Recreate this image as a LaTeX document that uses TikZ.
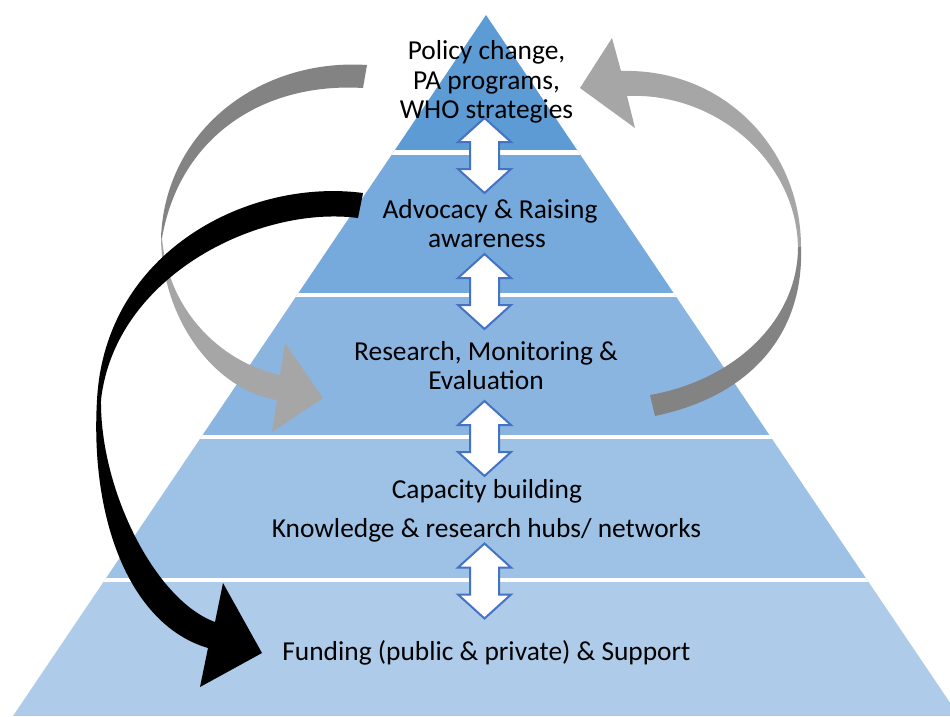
\documentclass[tikz,border=0pt]{standalone}
\usepackage{fontspec}
\setmainfont{Carlito}
\definecolor{layA}{HTML}{5D9BD5}
\definecolor{layB}{HTML}{76A9DC}
\definecolor{layC}{HTML}{8AB5E1}
\definecolor{layD}{HTML}{9DC2E6}
\definecolor{layE}{HTML}{AECCE9}
\definecolor{arrBlue}{HTML}{4472C4}
\definecolor{grayDark}{HTML}{838383}
\definecolor{grayLight}{HTML}{A6A6A6}
\begin{document}
\begin{tikzpicture}[x=1pt,y=-1pt,
  dblarr/.style={fill=white,draw=arrBlue,line width=2pt,line join=miter},
  sep/.style={white,line width=4.5pt},
  lbl/.style={anchor=base,inner sep=0pt,font=\fontsize{27.4}{29}\selectfont}]
\useasboundingbox (0,0) rectangle (950,716);
\clip (0,0) rectangle (950,716);
\fill[white] (0,0) rectangle (950,716);
% pyramid
\begin{scope}
  \clip (486,15) -- (13,716) -- (959,716) -- cycle;
  \fill[layA] (0,0) rectangle (950,153);
  \fill[layB] (0,153) rectangle (950,295);
  \fill[layC] (0,295) rectangle (950,437);
  \fill[layD] (0,437) rectangle (950,580);
  \fill[layE] (0,580) rectangle (950,716);
  \draw[sep] (0,152.5) -- (950,152.5);
  \draw[sep] (0,295) -- (950,295);
  \draw[sep] (0,437) -- (950,437);
  \draw[sep] (0,580) -- (950,580);
\end{scope}
% double arrows
\foreach \yc in {155.5,291.5,438.5,581}{
  \draw[dblarr] (484.5,\yc-37.5) -- (511,\yc-13.5) -- (499,\yc-13.5) -- (499,\yc+13.5) -- (511,\yc+13.5)
    -- (484.5,\yc+37.5) -- (458,\yc+13.5) -- (470,\yc+13.5) -- (470,\yc-13.5) -- (458,\yc-13.5) -- cycle;
}
% left gray circular arrow
\fill[grayDark] (367,65) .. controls (260,58) and (165,130) .. (161,238)
  -- (162,238) .. controls (180,135) and (265,82) .. (363,88) -- cycle;
\fill[grayLight] (161,238) .. controls (162,320) and (215,390) .. (277,400)
  -- (272,432) -- (323,398) -- (285,343) -- (280,375)
  .. controls (220,362) and (168,310) .. (162,238) -- cycle;
% right gray circular arrow
\fill[grayLight] (621,71) .. controls (725,68) and (801,150) .. (801,247)
  -- (798,247) .. controls (796,160) and (715,92) .. (627,96)
  -- (635,128) -- (580,88) -- (612,38) -- cycle;
\fill[grayDark] (801,247) .. controls (804,330) and (755,395) .. (655,416)
  -- (650,395) .. controls (735,380) and (798,320) .. (798,247) -- cycle;
% black arrow
\fill[black] (363,193) .. controls (250,178) and (105,250) .. (97,400)
  .. controls (90,520) and (130,625) .. (208,648)
  -- (200,687) -- (262,653) -- (223,583) -- (215,622)
  .. controls (155,600) and (100,490) .. (101,400)
  .. controls (115,275) and (260,205) .. (358,218) -- cycle;
% labels
\node[lbl] (t1a) at (486.5,59) {Policy change,};
\node[lbl] (t1b) at (486.5,89) {PA programs,};
\node[lbl] (t1c) at (486.5,118) {WHO strategies};
\node[lbl] (t2a) at (490,218) {Advocacy \& Raising};
\node[lbl] (t2b) at (487,247) {awareness};
\node[lbl] (t3a) at (486,360) {Research, Monitoring \&};
\node[lbl] (t3b) at (486,389) {Evaluation};
\node[lbl] (t4a) at (487,498) {Capacity building};
\node[lbl] (t4b) at (486.5,537) {Knowledge \& research hubs/ networks};
\node[lbl] (t5a) at (486.5,660) {Funding (public \& private) \& Support};
\end{tikzpicture}
\end{document}
